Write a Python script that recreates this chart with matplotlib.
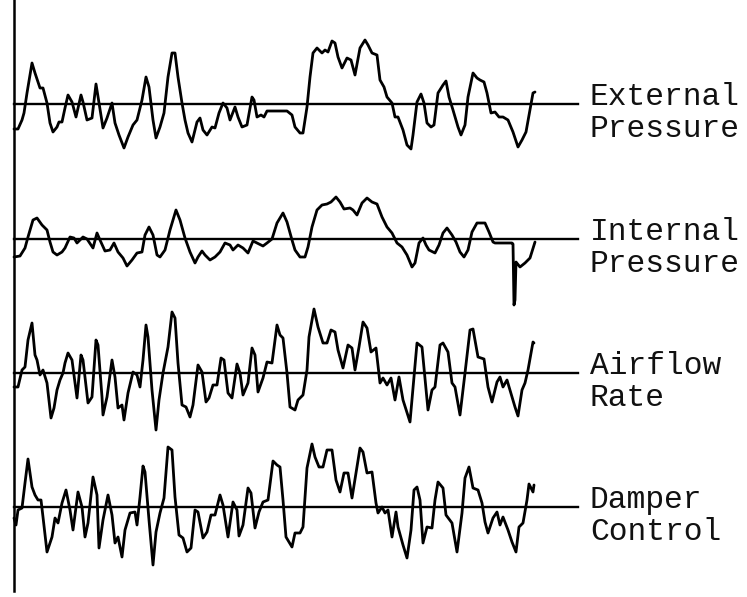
import matplotlib
matplotlib.use("Agg")
import matplotlib.pyplot as plt

# etiquetas de cada traza
etiquetas = ["External\nPressure", "Internal\nPressure", "Airflow\nRate", "Damper\nControl"]

# tiempo (muestras) y desviación respecto a la línea base de cada señal
t_ext = [0, 4, 8, 10, 13, 18, 21, 24, 26, 29, 33, 36, 39, 43, 45, 48, 51, 54, 58, 62, 67, 69, 73, 78, 82, 85,
         89, 93, 98, 101, 105, 110, 114, 119, 123, 128, 132, 135, 139, 142, 146, 150, 154, 158, 161, 164, 168,
         171, 174, 178, 183, 186, 189, 193, 198, 201, 205, 209, 213, 216, 221, 224, 228, 233, 238, 240, 243,
         247, 250, 253, 273, 278, 281, 286, 289, 293, 296, 299, 303, 308, 311, 314, 318, 321, 324, 328, 333,
         337, 341, 346, 351, 354, 358, 363, 366, 370, 373, 378, 381, 384, 389, 393, 397, 399, 403, 407, 410,
         413, 417, 420, 424, 429, 432, 435, 439, 444, 447, 451, 454, 459, 463, 466, 470, 473, 477, 481, 485,
         489, 494, 499, 504, 508, 512, 516, 519, 521]
v_ext = [-25, -25, -16, -9, 11, 41, 31, 22, 16, 16, 1, -19, -28, -23, -18, -18, -4, 9, 2, -13, 9, 2, -16, -14,
         20, 1, -24, -14, 1, -19, -31, -44, -33, -21, -16, 4, 27, 17, -16, -34, -23, -9, 27, 51, 51, 27, 1,
         -16, -29, -38, -18, -14, -26, -31, -23, -24, -9, 1, -4, -16, -3, -13, -23, -21, 7, 4, -13, -11, -13,
         -7, -7, -11, -23, -29, -29, -3, 27, 51, 56, 51, 54, 52, 63, 61, 47, 36, 46, 44, 29, 56, 64, 59, 51,
         49, 24, 17, 7, 1, -13, -13, -26, -41, -45, -31, 2, 10, 1, -19, -23, -21, 11, 19, 23, 7, -6, -23, -31,
         -21, 7, 31, 26, 24, 22, 11, -9, -8, -13, -13, -16, -28, -43, -36, -28, -6, 11, 12]

t_int = [0, 6, 11, 14, 19, 23, 28, 33, 36, 39, 43, 48, 51, 56, 60, 63, 69, 73, 79, 83, 86, 91, 96, 100, 104,
         109, 113, 118, 123, 128, 131, 135, 139, 143, 146, 151, 156, 162, 166, 171, 176, 181, 184, 188, 191,
         196, 201, 206, 211, 216, 219, 224, 229, 234, 239, 243, 249, 253, 258, 263, 269, 273, 278, 281, 286,
         291, 294, 298, 303, 308, 313, 317, 322, 326, 330, 336, 339, 343, 348, 353, 358, 363, 368, 373, 378,
         383, 388, 393, 398, 401, 405, 409, 412, 415, 421, 425, 429, 433, 438, 442, 446, 450, 454, 458, 463,
         471, 475, 479, 481, 498, 499, 500, 501, 502, 506, 511, 516, 521]
v_int = [-18, -17, -9, 2, 19, 21, 14, 9, -3, -13, -16, -13, -9, 2, 1, -4, 2, 0, -9, 6, -1, -12, -11, -4, -13,
         -19, -27, -21, -14, -13, 4, 12, 4, -16, -18, -11, 9, 29, 19, 1, -13, -24, -18, -12, -16, -21, -18,
         -13, -4, -6, -11, -6, -9, -14, -2, -4, -7, -4, 0, 16, 26, 17, -1, -11, -18, -18, -8, 12, 29, 34, 35,
         37, 42, 37, 30, 31, 29, 24, 36, 41, 37, 35, 22, 12, 6, -4, -8, -16, -28, -24, -4, 1, -6, -11, -14, -6,
         6, 11, 4, -3, -13, -18, -11, 7, 16, 16, 7, -3, -4, -4, -5, -66, -61, -23, -28, -24, -19, -3]

t_air = [0, 4, 8, 11, 14, 18, 21, 23, 26, 29, 33, 37, 40, 43, 46, 49, 51, 54, 58, 63, 67, 69, 74, 78, 82, 84,
         88, 89, 93, 98, 101, 104, 108, 110, 114, 119, 123, 126, 129, 132, 134, 138, 142, 145, 149, 154, 158,
         161, 164, 168, 172, 176, 179, 184, 188, 192, 195, 199, 203, 207, 210, 214, 218, 223, 226, 229, 234,
         238, 241, 244, 249, 253, 258, 263, 266, 269, 273, 276, 281, 284, 289, 293, 295, 300, 304, 309, 313,
         317, 321, 324, 329, 334, 338, 341, 345, 349, 353, 357, 362, 366, 369, 373, 377, 381, 385, 389, 396,
         400, 403, 408, 414, 418, 421, 426, 429, 434, 438, 441, 446, 451, 456, 459, 464, 470, 474, 478, 483,
         486, 489, 493, 498, 501, 504, 508, 511, 514, 519, 520]
v_air = [-14, -14, 3, 6, 33, 50, 18, 13, -2, 3, -10, -45, -35, -17, -7, 0, 10, 20, 13, -25, 18, 13, -30, -24,
         33, 28, -24, -42, -24, 13, -4, -35, -32, -47, -20, 1, -2, -14, 13, 48, 36, -17, -57, -27, 0, 26, 61,
         55, 10, -32, -34, -44, -32, 8, 1, -29, -25, -12, -12, 15, 13, -20, -25, 9, 0, -22, -10, 25, 18, -19,
         -5, 11, 10, 48, 38, 35, 0, -34, -37, -27, -22, 3, 36, 64, 46, 30, 30, 43, 41, 23, 5, 28, 25, 3, 26,
         51, 45, 21, 25, -10, -5, -12, -5, -27, -4, -27, -49, -4, 30, 26, -37, -17, -14, 28, 30, 21, -10, -14,
         -42, 0, 43, 44, 16, 14, -14, -29, -9, -4, -14, -7, -24, -34, -43, -17, -10, 3, 31, 30]

t_dam = [0, 2, 4, 8, 11, 14, 18, 21, 24, 27, 29, 33, 38, 41, 44, 48, 52, 56, 59, 64, 68, 71, 74, 79, 83, 85,
         89, 94, 98, 101, 104, 108, 111, 116, 121, 123, 126, 129, 131, 135, 139, 142, 146, 150, 154, 158, 161,
         165, 169, 173, 177, 181, 184, 189, 193, 197, 201, 206, 209, 214, 219, 223, 225, 229, 234, 237, 241,
         245, 249, 254, 259, 263, 266, 269, 272, 278, 281, 286, 289, 293, 298, 301, 305, 309, 313, 318, 322,
         326, 330, 334, 338, 343, 346, 349, 353, 358, 362, 364, 368, 371, 374, 378, 382, 384, 389, 393, 397,
         400, 403, 406, 409, 413, 418, 421, 424, 429, 432, 438, 443, 448, 451, 455, 459, 464, 468, 471, 474,
         479, 483, 486, 489, 494, 498, 502, 505, 509, 513, 515, 519, 520]
v_dam = [-11, -18, -3, -1, 24, 48, 20, 12, 7, 7, -10, -45, -30, -11, -16, 4, 17, -3, -23, 15, 0, -30, -16, 30,
         12, -41, -13, 12, -8, -36, -30, -50, -23, -6, -5, -18, 10, 41, 35, -13, -58, -25, -6, 9, 60, 57, 10,
         -28, -31, -45, -41, -3, -5, -31, -25, -8, -8, 12, 2, -30, 5, -3, -29, -18, 19, 14, -21, -5, 5, 7, 46,
         42, 40, 7, -30, -40, -26, -26, -20, 39, 63, 50, 40, 40, 57, 57, 27, 15, 34, 34, 9, 40, 59, 55, 34, 35,
         4, -6, 0, -6, -3, -30, -5, -20, -38, -51, -23, 17, 20, 7, -36, -20, -21, 7, 25, 19, -8, -16, -45, -6,
         29, 40, 19, 17, 4, -15, -26, -11, -5, -18, -10, -23, -35, -45, -20, -16, 7, 23, 15, 22]

series = [(t_ext, v_ext), (t_int, v_int), (t_air, v_air), (t_dam, v_dam)]

# posición vertical (px) de cada línea base
bases = [104, 239, 373, 507]

fig = plt.figure(figsize=(7.47, 5.97), dpi=100)
ax = fig.add_axes([0, 0, 1, 1])
ax.set_xlim(-14, 733)
ax.set_ylim(597, 0)
ax.axis("off")

# eje vertical a la izquierda
ax.plot([0, 0], [0, 591], color="black", lw=1.8)

for (t, v), base, etiqueta in zip(series, bases, etiquetas):
    ax.plot([0, 564], [base, base], color="black", lw=1.7)
    ax.plot(t, [base - val for val in v], color="black", lw=2.0,
            solid_joinstyle="round", solid_capstyle="round")
    ax.text(576, base + 9, etiqueta, family="Liberation Mono", fontsize=22.5,
            va="center", ha="left", linespacing=1.07, color="#111111")

fig.savefig("out.png", dpi=100)
